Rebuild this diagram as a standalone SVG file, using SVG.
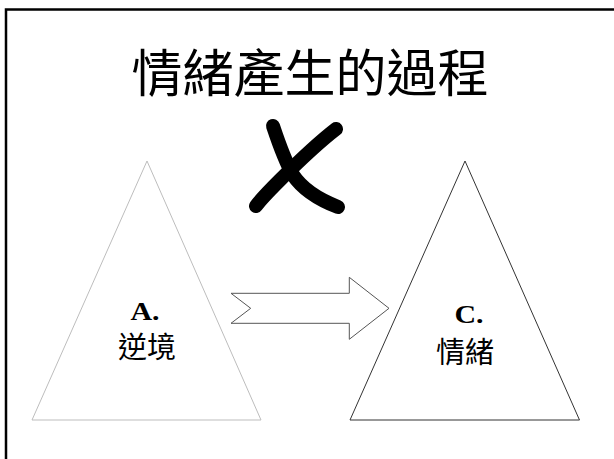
<svg xmlns="http://www.w3.org/2000/svg" width="614" height="459" viewBox="0 0 614 459">
  <style>
    .cjk { font-family: "Noto Sans CJK TC", "Noto Sans CJK SC", sans-serif; fill: #000; text-anchor: middle; }
    .lat { font-family: "Liberation Serif", serif; font-weight: bold; fill: #000; text-anchor: middle; }
    .tri { fill: #fff; stroke-width: 1; }
  </style>
  <rect width="614" height="459" fill="#fff"/>
  <rect x="6" y="9.5" width="640" height="480" fill="none" stroke="#000" stroke-width="2.5"/>
  <g id="title">
    <text class="cjk" x="310" y="92" font-size="51">情緒產生的過程</text>
  </g>
  <g id="cross">
    <path d="M273,126 C280,147 286,163 293,175 C303,190 320,200 338,207" fill="none" stroke="#000" stroke-width="14" stroke-linecap="round"/>
    <path d="M336,129 C314,146 295,165 280,180 C268,192 261,199 256,206" fill="none" stroke="#000" stroke-width="14" stroke-linecap="round"/>
  </g>
  <g id="node-a">
    <polygon class="tri" points="147,161 32,420 261,420" stroke="#bdbdbd"/>
    <text class="lat" font-size="26" transform="translate(145,320) scale(1.15,1)">A.</text>
    <text class="cjk" x="147" y="358" font-size="29">逆境</text>
  </g>
  <g id="node-c">
    <polygon class="tri" points="465,161 350,420 579.5,420" stroke="#333"/>
    <text class="lat" font-size="26" transform="translate(469,323) scale(1.15,1)">C.</text>
    <text class="cjk" x="465" y="363" font-size="29">情緒</text>
  </g>
  <g id="connectors">
    <polygon points="231,293.3 349.3,293.3 349.3,277.3 389,308.3 349.3,339.3 349.3,323.3 231,323.3 250.7,308.3" fill="#fff" stroke="#555" stroke-width="1"/>
  </g>
</svg>
